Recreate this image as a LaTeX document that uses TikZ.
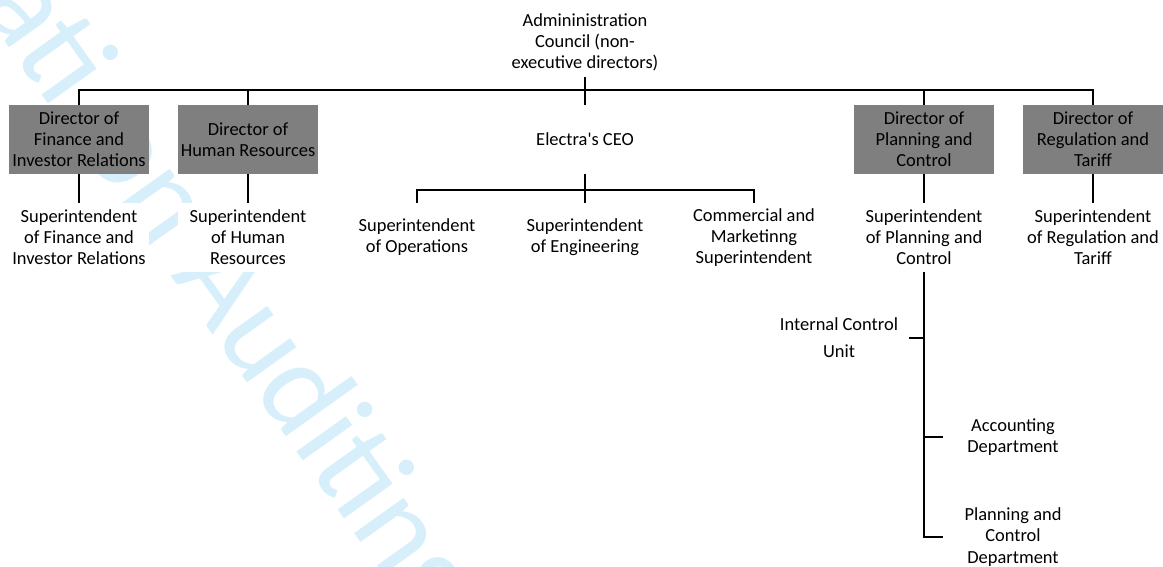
\documentclass[tikz,border=0pt]{standalone}
\usepackage{fontspec}
\setmainfont{Carlito}

\definecolor{boxgray}{RGB}{127,127,127}
\definecolor{markblue}{RGB}{214,239,251}

\begin{document}
\begin{tikzpicture}[x=0.02cm, y=-0.02cm,
        font=\fontsize{10.5}{12}\selectfont,
        unit/.style={align=center, fill=white, minimum width=2.8cm, minimum height=1.38cm, inner sep=1pt},
        director/.style={unit, fill=boxgray},
        link/.style={line width=1.3pt}]
    \useasboundingbox (0,0) rectangle (1163,567);

    % faint lettering behind the chart
    \begin{scope}
        \clip (0,0) rectangle (1163,567);
        \node[text=markblue, font=\fontsize{72.6}{80}\selectfont, rotate=-54.5,
              anchor=base east, inner sep=0pt] (mark) at (424,630) {Certificati\kern0.3em on Auditing};
    \end{scope}

    \node[unit] (council) at (585,42) {Admininistration\\Council (non-\\executive directors)};

    \node[director] (fin)  at (79,139.5)   {Director of\\Finance and\\Investor Relations};
    \node[director] (hr)   at (248,139.5)  {Director of\\Human Resources};
    \node[unit]     (ceo)  at (585,139.5)  {Electra\textquotesingle s CEO};
    \node[director] (plan) at (924,139.5)  {Director of\\Planning and\\Control};
    \node[director] (reg)  at (1093,139.5) {Director of\\Regulation and\\Tariff};

    \node[unit] (sfin)  at (79,237.5)   {Superintendent\\of Finance and\\Investor Relations};
    \node[unit] (shr)   at (248,237.5)  {Superintendent\\of Human\\Resources};
    \node[unit] (sops)  at (417,237.5)  {Superintendent\\of Operations};
    \node[unit] (seng)  at (585,237.5)  {Superintendent\\of Engineering};
    \node[unit] (scom)  at (754,237.5)  {Commercial and\\Marketinng\\Superintendent};
    \node[unit] (splan) at (924,237.5)  {Superintendent\\of Planning and\\Control};
    \node[unit] (sreg)  at (1093,237.5) {Superintendent\\of Regulation and\\Tariff};

    \node[unit] (icu) at (839,338)  {Internal Control\\[3.3pt]Unit};
    \node[unit] (acc) at (1013,437) {Accounting\\Department};
    \node[unit] (pcd) at (1013,537) {Planning and\\Control\\Department};

    \coordinate (top) at (585,90);
    \coordinate (mid) at (585,190);

    \draw[link] (fin.north) |- (top) -| (reg.north);
    \draw[link] (hr.north) -- (hr.north |- top);
    \draw[link] (plan.north) -- (plan.north |- top);
    \draw[link] (council.south) -- (ceo.north);

    \draw[link] (ceo.south) -- (seng.north);
    \draw[link] (sops.north) |- (mid) -| (scom.north);

    \draw[link] (fin.south) -- (sfin.north);
    \draw[link] (hr.south) -- (shr.north);
    \draw[link] (plan.south) -- (splan.north);
    \draw[link] (reg.south) -- (sreg.north);

    \draw[link] (splan.south) |- (pcd.west);
    \draw[link] (acc.west) -- (acc.west -| splan.south);
    \draw[link] (icu.east) -- (icu.east -| splan.south);
\end{tikzpicture}
\end{document}
